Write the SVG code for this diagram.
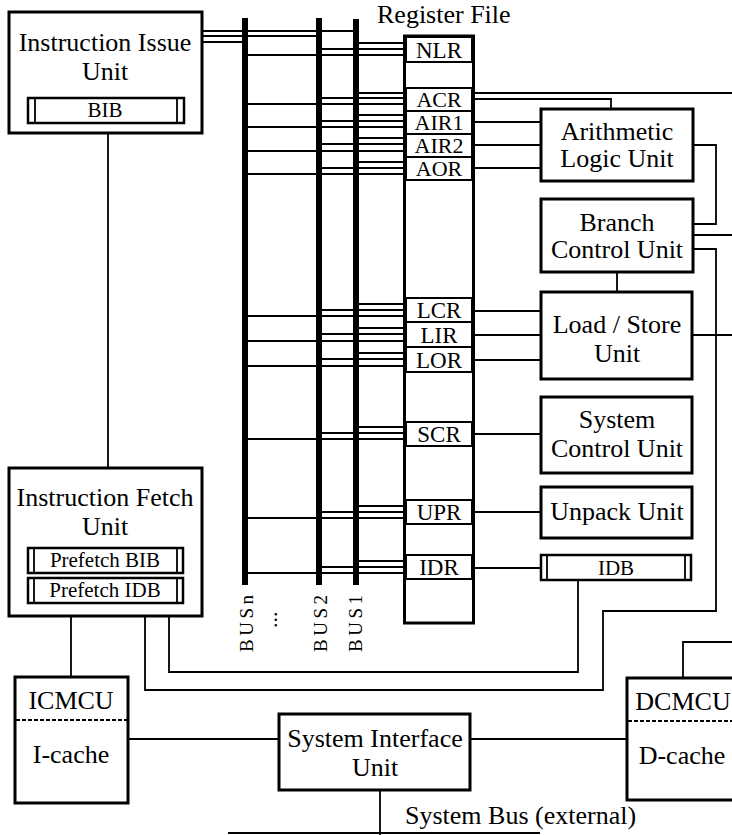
<svg xmlns="http://www.w3.org/2000/svg" width="732" height="835" viewBox="0 0 732 835">
<style>
.box{fill:#fff;stroke:#000;stroke-width:3}
.bar{fill:#fff;stroke:#000;stroke-width:2.5}
.cell{fill:none;stroke:#000;stroke-width:2}
.ln{fill:none;stroke:#000;stroke-width:1.8}
.bus{stroke:#000;stroke-width:6}
.dash{stroke:#000;stroke-width:2;stroke-dasharray:4 2}
text{font-family:"Liberation Serif","Times New Roman",serif;fill:#000}
.t{font-size:26px;text-anchor:middle}
.r{font-size:23px;text-anchor:middle}
.ra{font-size:22px;text-anchor:middle}
.s{font-size:21px;text-anchor:middle}
.b{font-size:19px;letter-spacing:3.5px}
</style>
<rect width="732" height="835" fill="#fff"/>

<g id="connectors">
  <path class="ln" d="M202,31H356M202,36H319M202,42H245"/>
  <path class="ln" d="M356,43H404M319,49H404M245,55H404
    M356,93H404M319,98H404M245,104H404
    M356,115H404M319,121H404M245,127H404
    M356,138H404M319,144H404M245,151H404
    M356,162H404M319,168H404M245,174H404
    M356,304H404M319,310H404M245,316H404
    M356,328H404M319,334H404M245,341H404
    M356,353H404M319,359H404M245,366H404
    M356,427H404M319,433H404M245,439H404
    M356,506H404M319,512H404M245,518H404
    M356,561H404M319,567H404M245,573H404"/>
  <path class="ln" d="M474,93H732M474,99H611V109M474,122H541M474,145H541M474,168H541
    M474,311H541M474,335H541M474,360H541M474,434H541M474,512H541M474,568H541"/>
  <path class="ln" d="M693,145H716V224H693M693,235H732M693,249H716V611H603V690H145V616
    M617,272V292M692,335H732M683,678V642H732"/>
  <path class="ln" d="M169,616V672H578V580M71,616V677M108,133V468
    M128,739H279M470,739H627M380,790V835M228,833H540"/>
</g>

<g id="buses">
  <line class="bus" x1="245" y1="18" x2="245" y2="585"/>
  <line class="bus" x1="319" y1="18" x2="319" y2="585"/>
  <line class="bus" x1="356" y1="19" x2="356" y2="585"/>
  <text class="b" transform="translate(253,652) rotate(-90)">BUSn</text>
  <text class="b" transform="translate(327,652) rotate(-90)">BUS2</text>
  <text class="b" transform="translate(362,652) rotate(-90)">BUS1</text>
  <text class="b" style="letter-spacing:0;font-size:22px" transform="translate(277,628) rotate(-90)">...</text>
</g>

<g id="register-file">
  <text x="377" y="23" style="font-size:26px">Register File</text>
  <rect x="404.5" y="36" width="69" height="587" fill="#fff" stroke="#000" stroke-width="3"/>
  <rect class="cell" x="406" y="37" width="66" height="25"/>
  <rect class="cell" x="406" y="88" width="66" height="23"/>
  <rect class="cell" x="406" y="111" width="66" height="23"/>
  <rect class="cell" x="406" y="134" width="66" height="23"/>
  <rect class="cell" x="406" y="157" width="66" height="23"/>
  <rect class="cell" x="406" y="298" width="66" height="24"/>
  <rect class="cell" x="406" y="322" width="66" height="25"/>
  <rect class="cell" x="406" y="347" width="66" height="25"/>
  <rect class="cell" x="406" y="422" width="66" height="24"/>
  <rect class="cell" x="406" y="500" width="66" height="24"/>
  <rect class="cell" x="406" y="555" width="66" height="24"/>
  <text class="r" x="439" y="58">NLR</text>
  <text class="ra" x="439" y="107">ACR</text>
  <text class="ra" x="439" y="130">AIR1</text>
  <text class="ra" x="439" y="153">AIR2</text>
  <text class="ra" x="439" y="176">AOR</text>
  <text class="r" x="439" y="318">LCR</text>
  <text class="r" x="439" y="343">LIR</text>
  <text class="r" x="439" y="368">LOR</text>
  <text class="r" x="439" y="442">SCR</text>
  <text class="r" x="439" y="520">UPR</text>
  <text class="r" x="439" y="575">IDR</text>
</g>

<g id="instruction-issue-unit">
  <rect class="box" x="9" y="12" width="193" height="121"/>
  <text class="t" x="105" y="51">Instruction Issue</text>
  <text class="t" x="105" y="80">Unit</text>
  <rect class="bar" x="28" y="98" width="156" height="25"/>
  <path class="ln" d="M35,98V123M177,98V123"/>
  <text class="s" x="105" y="117">BIB</text>
</g>

<g id="instruction-fetch-unit">
  <rect class="box" x="9" y="468" width="193" height="148"/>
  <text class="t" x="105" y="506">Instruction Fetch</text>
  <text class="t" x="105" y="535">Unit</text>
  <rect class="bar" x="28" y="548" width="155" height="25"/>
  <path class="ln" d="M34,548V573M177,548V573"/>
  <text class="s" x="105" y="567">Prefetch BIB</text>
  <rect class="bar" x="28" y="578" width="155" height="25"/>
  <path class="ln" d="M34,578V603M177,578V603"/>
  <text class="s" x="105" y="597">Prefetch IDB</text>
</g>

<g id="alu">
  <rect class="box" x="541" y="109" width="152" height="72"/>
  <text class="t" x="617" y="140">Arithmetic</text>
  <text class="t" x="617" y="167">Logic Unit</text>
</g>

<g id="branch-control-unit">
  <rect class="box" x="541" y="199" width="152" height="73"/>
  <text class="t" x="617" y="231">Branch</text>
  <text class="t" x="617" y="258">Control Unit</text>
</g>

<g id="load-store-unit">
  <rect class="box" x="541" y="292" width="151" height="87"/>
  <text class="t" x="617" y="333">Load / Store</text>
  <text class="t" x="617" y="362">Unit</text>
</g>

<g id="system-control-unit">
  <rect class="box" x="541" y="397" width="151" height="76"/>
  <text class="t" x="617" y="428">System</text>
  <text class="t" x="617" y="457">Control Unit</text>
</g>

<g id="unpack-unit">
  <rect class="box" x="541" y="487" width="151" height="51"/>
  <text class="t" x="617" y="520">Unpack Unit</text>
</g>

<g id="idb">
  <rect class="bar" x="541" y="555" width="150" height="25"/>
  <path class="ln" d="M547,555V580M685,555V580"/>
  <text class="s" x="616" y="575">IDB</text>
</g>

<g id="icmcu">
  <rect class="box" x="15" y="677" width="113" height="126"/>
  <line class="dash" x1="16" y1="720" x2="127" y2="720"/>
  <text class="t" x="71" y="709">ICMCU</text>
  <text class="t" x="71" y="763">I-cache</text>
</g>

<g id="system-interface-unit">
  <rect class="box" x="279" y="714" width="191" height="76"/>
  <text class="t" x="375" y="747">System Interface</text>
  <text class="t" x="375" y="776">Unit</text>
</g>

<g id="dcmcu">
  <rect class="box" x="627" y="678" width="120" height="122"/>
  <line class="dash" x1="628" y1="721" x2="732" y2="721"/>
  <text class="t" x="683" y="710">DCMCU</text>
  <text class="t" x="682" y="764">D-cache</text>
</g>

<g id="system-bus-label">
  <text x="405" y="824" style="font-size:26px">System Bus (external)</text>
</g>
</svg>
